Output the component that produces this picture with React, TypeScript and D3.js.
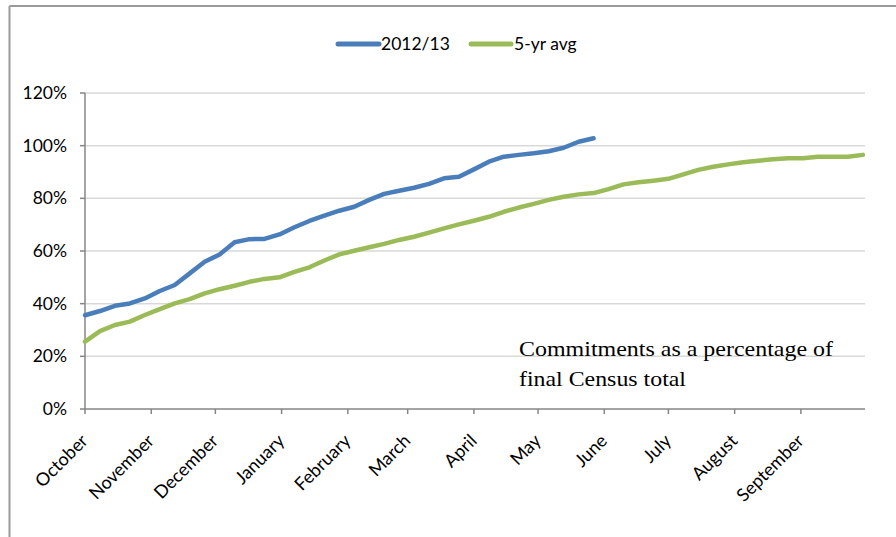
import React from 'react';
import * as d3 from 'd3';

// Weekly cumulative commitments, % of final Census total
const series2012: number[] = [
  35.6, 37.2, 39.2, 40.1, 42.0, 44.8, 47.1, 51.5, 55.9, 58.7, 63.3, 64.5,
  64.6, 66.3, 69.0, 71.4, 73.4, 75.3, 76.8, 79.4, 81.7, 82.9, 84.0, 85.5,
  87.6, 88.2, 91.0, 93.9, 95.8, 96.5, 97.1, 97.9, 99.2, 101.5, 102.8,
];

const seriesAvg: number[] = [
  25.6, 29.6, 31.9, 33.2, 35.7, 37.9, 40.1, 41.7, 43.9, 45.5, 46.8, 48.3,
  49.4, 50.0, 52.1, 53.8, 56.4, 58.7, 60.1, 61.4, 62.7, 64.2, 65.4, 67.0,
  68.6, 70.1, 71.5, 73.0, 74.9, 76.5, 77.9, 79.4, 80.6, 81.5, 82.0, 83.5,
  85.3, 86.1, 86.7, 87.4, 89.1, 90.8, 92.0, 92.9, 93.7, 94.3, 94.8, 95.2,
  95.2, 95.8, 95.8, 95.8, 96.5,
];

const yTicks: number[] = [0, 20, 40, 60, 80, 100, 120];
const monthLabels: string[] = [
  'October', 'November', 'December', 'January', 'February', 'March',
  'April', 'May', 'June', 'July', 'August', 'September',
];
const legendLabels: string[] = ['2012/13', '5-yr avg'];
const noteLines: string[] = ['Commitments as a percentage of', 'final Census total'];

const W = 896;
const H = 537;
const BLUE = '#4a7ebb';
const GREEN = '#9bbb59';
const AXIS = '#868686';
const GRID = '#d9d9d9';
const FONT = 'Lato, "Open Sans", sans-serif';

const start = new Date(2012, 9, 1);
const end = new Date(2013, 9, 1);
const weekDate = (i: number) => d3.timeDay.offset(start, 7 * i);

const App: React.FC = () => {
  const x = d3.scaleTime().domain([start, end]).range([85, 865]);
  const y = d3.scaleLinear().domain([0, 120]).range([409, 93]);

  const line = d3.line<number>()
    .x((_, i) => x(weekDate(i)))
    .y((d) => y(d));

  const monthTicks = d3.timeMonth.range(start, end);

  return (
    <div style={{ position: 'absolute', left: 0, top: 0 }}>
      <svg width={W} height={H} style={{ display: 'block', background: '#fff' }}>
        {/* frame */}
        <line x1={9.5} y1={6} x2={W} y2={6} stroke="#9a9a9a" strokeWidth={2} />
        <line x1={9.5} y1={6} x2={9.5} y2={H} stroke="#9a9a9a" strokeWidth={2} />

        {/* gridlines */}
        {yTicks.filter((t) => t > 0).map((t) => (
          <line key={t} x1={85} x2={865} y1={y(t)} y2={y(t)} stroke={GRID} strokeWidth={1.5} />
        ))}

        {/* y axis */}
        <line x1={85} x2={85} y1={y(120)} y2={y(0)} stroke={AXIS} strokeWidth={1.5} />
        {yTicks.map((t) => (
          <g key={t}>
            <line x1={80} x2={85} y1={y(t)} y2={y(t)} stroke={AXIS} strokeWidth={1.5} />
            <text x={67} y={y(t)} dy="0.35em" textAnchor="end" fontFamily={FONT} fontSize={17.5} fill="#000">
              {t}%
            </text>
          </g>
        ))}

        {/* x axis */}
        <line x1={85} x2={865} y1={y(0)} y2={y(0)} stroke={AXIS} strokeWidth={1.5} />
        {monthTicks.map((m, i) => {
          const tx = x(m);
          return (
            <g key={i}>
              <line x1={tx} x2={tx} y1={y(0)} y2={y(0) + 5} stroke={AXIS} strokeWidth={1.5} />
              <text
                transform={`translate(${tx + 4},${442}) rotate(-45)`}
                textAnchor="end"
                fontFamily={FONT}
                fontSize={18}
                fill="#000"
              >
                {monthLabels[i]}
              </text>
            </g>
          );
        })}

        {/* series */}
        <path d={line(seriesAvg) ?? ''} fill="none" stroke={GREEN} strokeWidth={4.5}
          strokeLinejoin="round" strokeLinecap="round" />
        <path d={line(series2012) ?? ''} fill="none" stroke={BLUE} strokeWidth={4.5}
          strokeLinejoin="round" strokeLinecap="round" />

        {/* legend */}
        <line x1={338} x2={379} y1={44} y2={44} stroke={BLUE} strokeWidth={5} strokeLinecap="round" />
        <text x={381} y={44} dy="0.35em" fontFamily={FONT} fontSize={17.5}>{legendLabels[0]}</text>
        <line x1={471} x2={511} y1={44} y2={44} stroke={GREEN} strokeWidth={5} strokeLinecap="round" />
        <text x={514} y={44} dy="0.35em" fontFamily={FONT} fontSize={17.5}>{legendLabels[1]}</text>

        {/* annotation */}
        <text fontFamily='"Liberation Serif", "Times New Roman", serif' fontSize={21} fill="#000">
          <tspan x={519} y={356} textLength={314} lengthAdjust="spacingAndGlyphs">{noteLines[0]}</tspan>
          <tspan x={519} y={386} textLength={167} lengthAdjust="spacingAndGlyphs">{noteLines[1]}</tspan>
        </text>
      </svg>
    </div>
  );
};

export default App;
